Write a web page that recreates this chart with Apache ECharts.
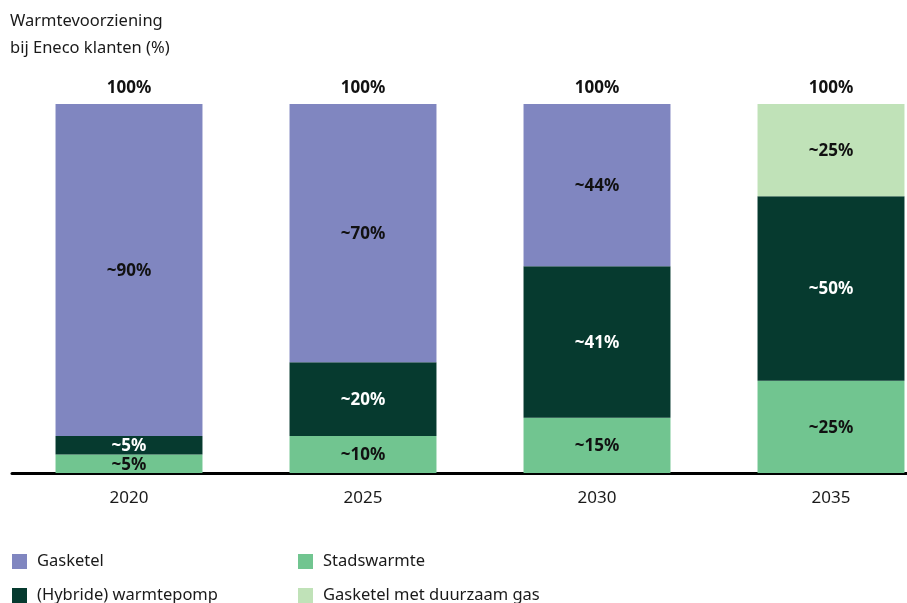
<!DOCTYPE html>
<html>
<head>
<meta charset="utf-8">
<script src="https://cdn.jsdelivr.net/npm/echarts@6/dist/echarts.min.js"></script>
<style>
  html, body { margin: 0; padding: 0; background: #fff; }
  #chart { width: 907px; height: 603px; }
</style>
</head>
<body>
<div id="chart"></div>
<script>
// jaren
var years = ['2020', '2025', '2030', '2035'];
// aandelen per warmtebron (%)
var stadswarmte = [5, 10, 15, 25];
var warmtepomp = [5, 20, 41, 50];
var gasketel = [90, 70, 44, null];
var duurzaamGas = [null, null, null, 25];
// totaal boven de staaf
var totals = [100, 100, 100, 100];

var fontFam = '"Noto Sans", "Open Sans", sans-serif';

function barLabel(color) {
    return {
        show: true,
        position: 'inside',
        formatter: '~{c}%',
        offset: [0, 1],
        color: color,
        fontWeight: 'bold',
        fontSize: 17,
        fontFamily: fontFam
    };
}

// één legenda per item, zodat de plek vast staat
function legendItem(name, left, top) {
    return {
        data: [name],
        left: left,
        top: top,
        itemWidth: 15,
        itemHeight: 15,
        icon: 'rect',
        textStyle: { fontSize: 16.5, color: '#1a1a1a', fontFamily: fontFam, padding: [0, 0, 0, 5] }
    };
}

var option = {
    animation: false,
    title: {
        text: 'Warmtevoorziening\nbij Eneco klanten (%)',
        left: 5,
        top: 3,
        textStyle: {
            fontSize: 16.5,
            fontWeight: 'normal',
            color: '#1a1a1a',
            lineHeight: 27,
            fontFamily: fontFam
        }
    },
    legend: [
        legendItem('Gasketel', 7, 548),
        legendItem('(Hybride) warmtepomp', 7, 582),
        legendItem('Stadswarmte', 293, 548),
        legendItem('Gasketel met duurzaam gas', 293, 582)
    ],
    grid: {
        left: 12,
        width: 936,
        top: 104,
        bottom: 130,
        outerBoundsMode: 'none'
    },
    xAxis: {
        type: 'category',
        data: years,
        axisTick: { show: false },
        axisLine: { lineStyle: { color: '#000', width: 3 } },
        axisLabel: { fontSize: 17, color: '#1a1a1a', margin: 17, fontFamily: fontFam }
    },
    yAxis: {
        type: 'value',
        min: 0,
        max: 100,
        show: false,
        splitLine: { show: false }
    },
    series: [
        {
            name: 'Stadswarmte',
            type: 'bar',
            stack: 'totaal',
            barWidth: '62.8%',
            data: stadswarmte,
            itemStyle: { color: '#71c590' },
            label: barLabel('#111')
        },
        {
            name: '(Hybride) warmtepomp',
            type: 'bar',
            stack: 'totaal',
            data: warmtepomp,
            itemStyle: { color: '#063a2f' },
            label: barLabel('#fff')
        },
        {
            name: 'Gasketel',
            type: 'bar',
            stack: 'totaal',
            data: gasketel,
            itemStyle: { color: '#8086c0' },
            label: barLabel('#111')
        },
        {
            name: 'Gasketel met duurzaam gas',
            type: 'bar',
            stack: 'totaal',
            data: duurzaamGas,
            itemStyle: { color: '#c0e2b8' },
            label: barLabel('#111')
        },
        {
            // lege staaf voor het totaal erboven
            name: 'totaal',
            type: 'bar',
            stack: 'totaal',
            data: totals.map(function () { return 0; }),
            itemStyle: { color: 'transparent' },
            label: {
                show: true,
                position: 'top',
                distance: 7,
                formatter: function (p) { return totals[p.dataIndex] + '%'; },
                color: '#111',
                fontWeight: 'bold',
                fontSize: 17,
                fontFamily: fontFam
            }
        }
    ]
};

var chart = echarts.init(document.getElementById('chart'));
chart.setOption(option);
</script>
</body>
</html>
